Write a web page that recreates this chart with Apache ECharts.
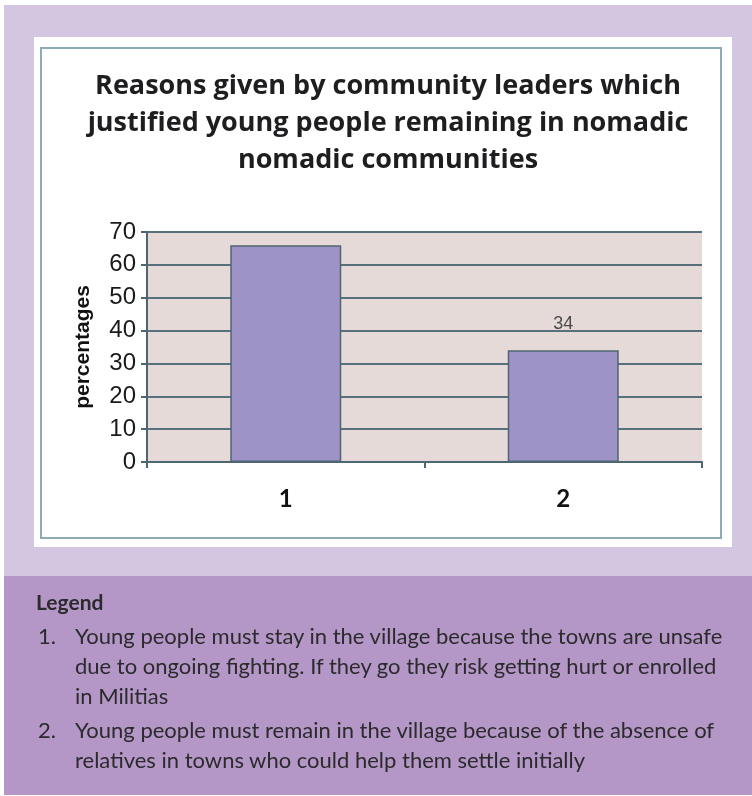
<!DOCTYPE html>
<html>
<head>
<meta charset="utf-8">
<title>Reasons given by community leaders</title>
<script src="https://cdn.jsdelivr.net/npm/echarts@6/dist/echarts.min.js"></script>
<style>
    body { margin: 0; background: #fff; width: 752px; height: 796px; position: relative; overflow: hidden; font-family: Lato, "Noto Sans", sans-serif; }
    .top-band { position: absolute; left: 4px; top: 5px; width: 748px; height: 571px; background: #d4c6e0; }
    .bottom-band { position: absolute; left: 4px; top: 576px; width: 748px; height: 219px; background: #b497c7; }
    .white-box { position: absolute; left: 34px; top: 37px; width: 698px; height: 510px; background: #fff; }
    .frame { position: absolute; left: 40px; top: 47px; width: 678px; height: 488px; border: 2px solid #8eaab6; }
    #chart { position: absolute; left: 0; top: 0; width: 752px; height: 796px; }
    .legend { position: absolute; left: 0; top: 0; color: #2b2a2c; font-size: 22px; }
    .legend div { position: absolute; white-space: nowrap; line-height: 30px; }
</style>
</head>
<body>
<div class="top-band"></div>
<div class="bottom-band"></div>
<div class="white-box"></div>
<div class="frame"></div>
<div id="chart"></div>
<div class="legend" id="legend"></div>
<script>
    // chart data
    var titleLines = [
        'Reasons given by community leaders which',
        'justified young people remaining in nomadic',
        'nomadic communities'
    ];
    var categories = ['1', '2'];
    var values = [66, 34];
    var showValueLabel = [false, true];
    var yMin = 0, yMax = 70, yStep = 10;

    // legend text, one entry per line as printed
    var legendTitle = 'Legend';
    var legendItems = [
        ['1.', ['Young people must stay in the village because the towns are unsafe',
                'due to ongoing fighting. If they go they risk getting hurt or enrolled',
                'in Militias']],
        ['2.', ['Young people must remain in the village because of the absence of',
                'relatives in towns who could help them settle initially']]
    ];

    var legendBox = document.getElementById('legend');
    var head = document.createElement('div');
    head.textContent = legendTitle;
    head.style.cssText = 'left:36px;top:587px;font-weight:bold;font-size:21px;';
    legendBox.appendChild(head);
    var y = 621;
    legendItems.forEach(function (item) {
        var num = document.createElement('div');
        num.textContent = item[0];
        num.style.cssText = 'left:38px;top:' + y + 'px;';
        legendBox.appendChild(num);
        item[1].forEach(function (line) {
            var d = document.createElement('div');
            d.textContent = line;
            d.style.cssText = 'left:75px;top:' + y + 'px;';
            legendBox.appendChild(d);
            y += 30;
        });
        y += 4;
    });

    var chartDom = document.getElementById('chart');
    var myChart = echarts.init(chartDom);
    var option;
    option = {
        animation: false,
        title: {
            text: titleLines.join('\n'),
            left: 383,
            top: 63,
            textAlign: 'center',
            textStyle: {
                fontFamily: 'Open Sans',
                fontWeight: 'bold',
                fontSize: 27,
                lineHeight: 37,
                color: '#1e1d1f'
            }
        },
        grid: {
            left: 147,
            right: 50,
            top: 232,
            bottom: 334,
            show: true,
            backgroundColor: '#e5dad8',
            borderWidth: 0
        },
        xAxis: {
            type: 'category',
            data: categories,
            axisLine: { lineStyle: { color: '#4d6672', width: 2 } },
            axisTick: { show: true, length: 6, lineStyle: { color: '#4d6672', width: 2 } },
            axisLabel: {
                margin: 25,
                fontFamily: 'Lato',
                fontWeight: 'bold',
                fontSize: 24,
                color: '#111'
            }
        },
        yAxis: {
            type: 'value',
            min: yMin,
            max: yMax,
            interval: yStep,
            name: 'percentages',
            nameLocation: 'middle',
            nameGap: 51,
            nameTextStyle: {
                fontFamily: 'Liberation Sans',
                fontWeight: 'bold',
                fontSize: 21,
                color: '#111',
                backgroundColor: '#fff',
                padding: [2, 8]
            },
            axisLine: { show: true, lineStyle: { color: '#4d6672', width: 2 } },
            axisTick: { show: true, length: 6, lineStyle: { color: '#4d6672', width: 2 } },
            axisLabel: {
                margin: 11,
                fontFamily: 'Liberation Sans',
                fontSize: 24,
                color: '#1a1a1a'
            },
            splitLine: { lineStyle: { color: '#56707c', width: 2 } }
        },
        series: [
            {
                type: 'bar',
                barWidth: '40%',
                data: values.map(function (v, i) {
                    return { value: v, label: { show: showValueLabel[i] } };
                }),
                itemStyle: {
                    color: '#9d93c7',
                    borderColor: '#4f6672',
                    borderWidth: 1.5
                },
                label: {
                    position: 'top',
                    distance: 17,
                    fontFamily: 'Liberation Sans',
                    fontSize: 18,
                    color: '#4a4a4a'
                }
            }
        ]
    };
    option && myChart.setOption(option);
</script>
</body>
</html>
